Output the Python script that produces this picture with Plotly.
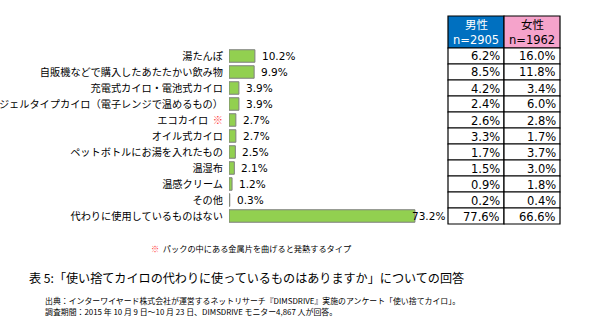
import plotly.graph_objects as go

W, H = 589, 322

categories = [
    "湯たんぽ",
    "自販機などで購入したあたたかい飲み物",
    "充電式カイロ・電池式カイロ",
    "ジェルタイプカイロ（電子レンジで温めるもの）",
    "エコカイロ",
    "オイル式カイロ",
    "ペットボトルにお湯を入れたもの",
    "温湿布",
    "温感クリーム",
    "その他",
    "代わりに使用しているものはない",
]
total = [10.2, 9.9, 3.9, 3.9, 2.7, 2.7, 2.5, 2.1, 1.2, 0.3, 73.2]
male = [6.2, 8.5, 4.2, 2.4, 2.6, 3.3, 1.7, 1.5, 0.9, 0.2, 77.6]
female = [16.0, 11.8, 3.4, 6.0, 2.8, 1.7, 3.7, 3.0, 1.8, 0.4, 66.6]
male_header = ["男性", "n=2905"]
female_header = ["女性", "n=1962"]
note_mark_category = "エコカイロ"

JP = "Noto Sans CJK JP"
NUM = "DejaVu Sans"


def px(x):
    return x / W


def py(y):
    return 1 - y / H


# tick labels: the marked item carries a red ※
tick_text = [
    c + "  <span style='color:#ff3b3b'>※</span>" if c == note_mark_category else c
    for c in categories
]

fig = go.Figure(
    go.Bar(
        x=total,
        y=categories,
        orientation="h",
        marker=dict(color="#92D050", line=dict(color="#7f7f7f", width=1)),
        width=0.78,
        hoverinfo="skip",
    )
)

table_top, header_bottom = 16, 48
row_h = 16
n = len(categories)
plot_top = header_bottom
plot_bottom = header_bottom + row_h * n
bar_left = 229
px_per_pct = 2.54
x_max = 80

fig.update_layout(
    width=W,
    height=H,
    margin=dict(l=0, r=0, t=0, b=0),
    paper_bgcolor="white",
    plot_bgcolor="white",
    showlegend=False,
    font=dict(family=JP, size=10.5, color="#000000"),
    xaxis=dict(
        domain=[px(bar_left), px(bar_left + x_max * px_per_pct)],
        range=[0, x_max],
        visible=False,
        fixedrange=True,
        automargin=False,
    ),
    yaxis=dict(
        domain=[py(plot_bottom), py(plot_top)],
        autorange="reversed",
        tickmode="array",
        tickvals=categories,
        ticktext=tick_text,
        ticks="",
        showline=False,
        showgrid=False,
        zeroline=False,
        automargin=False,
        ticklabelstandoff=5,
        tickfont=dict(family=JP, size=10.2, color="#000000"),
        fixedrange=True,
    ),
)

annotations = []
# value labels just past each bar end
for cat, v in zip(categories, total):
    annotations.append(dict(
        x=v, y=cat, xref="x", yref="y", text=f"{v:.1f}%",
        showarrow=False, xanchor="left", yanchor="middle",
        xshift=-5 if v > 60 else 5,
        font=dict(family=NUM, size=10.5, color="#000000"),
    ))

# side table by gender
col_edges = [448, 504, 560]
shapes = []
shapes.append(dict(type="rect", xref="paper", yref="paper",
                   x0=px(col_edges[0]), x1=px(col_edges[1]),
                   y0=py(header_bottom), y1=py(table_top),
                   fillcolor="#0070C0", line=dict(color="#000000", width=1.2), layer="below"))
shapes.append(dict(type="rect", xref="paper", yref="paper",
                   x0=px(col_edges[1]), x1=px(col_edges[2]),
                   y0=py(header_bottom), y1=py(table_top),
                   fillcolor="#F5A3CB", line=dict(color="#000000", width=1.2), layer="below"))
for i in range(n):
    y0 = header_bottom + row_h * i
    for c in range(2):
        shapes.append(dict(type="rect", xref="paper", yref="paper",
                           x0=px(col_edges[c]), x1=px(col_edges[c + 1]),
                           y0=py(y0 + row_h), y1=py(y0),
                           fillcolor="white", line=dict(color="#000000", width=1.2),
                           layer="below"))

for c, (hdr, col) in enumerate([(male_header, "#ffffff"), (female_header, "#000000")]):
    cx = (col_edges[c] + col_edges[c + 1]) / 2
    for k, t in enumerate(hdr):
        annotations.append(dict(
            x=px(cx), y=py(table_top + 8 + 16 * k), xref="paper", yref="paper",
            text=t, showarrow=False, xanchor="center", yanchor="middle",
            font=dict(family=NUM if k else JP, size=11.5, color=col),
        ))

for c, vals in enumerate([male, female]):
    for i, v in enumerate(vals):
        annotations.append(dict(
            x=px(col_edges[c + 1] - 2), y=py(header_bottom + row_h * i + 8.5),
            xref="paper", yref="paper", text=f"{v:.1f}%",
            showarrow=False, xanchor="right", yanchor="middle",
            font=dict(family=NUM, size=11.5, color="#000000"),
        ))

# footnote, title and source
annotations.append(dict(
    x=px(251), y=py(248), xref="paper", yref="paper",
    text="<span style='color:#ff3b3b'>※</span>  パックの中にある金属片を曲げると発熱するタイプ",
    showarrow=False, xanchor="center", yanchor="middle",
    font=dict(family=JP, size=8.2, color="#000000"),
))
annotations.append(dict(
    x=px(27), y=py(277), xref="paper", yref="paper",
    text="表 5:「使い捨てカイロの代わりに使っているものはありますか」についての回答",
    showarrow=False, xanchor="left", yanchor="middle",
    font=dict(family=JP, size=12.1, color="#000000"),
))
annotations.append(dict(
    x=px(44), y=py(300.5), xref="paper", yref="paper",
    text="出典：インターワイヤード株式会社が運営するネットリサーチ『DIMSDRIVE』実施のアンケート「使い捨てカイロ」。",
    showarrow=False, xanchor="left", yanchor="middle", borderpad=0,
    font=dict(family=JP, size=7.9, color="#000000"),
))
annotations.append(dict(
    x=px(44), y=py(311.5), xref="paper", yref="paper",
    text="調査期間：2015 年 10 月 9 日～10 月 23 日、DIMSDRIVE モニター4,867 人が回答。",
    showarrow=False, xanchor="left", yanchor="middle", borderpad=0,
    font=dict(family=JP, size=7.9, color="#000000"),
))

fig.update_layout(shapes=shapes, annotations=annotations)
fig.write_html("out.html", config={"displayModeBar": False})
